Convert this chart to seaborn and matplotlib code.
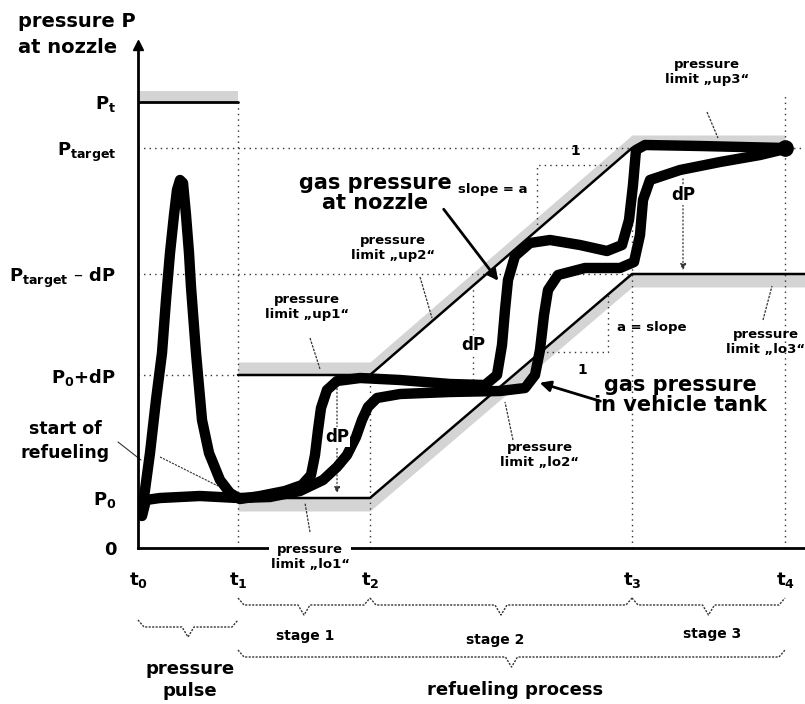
import numpy as np
import pandas as pd
import matplotlib
matplotlib.use("Agg")
import matplotlib.pyplot as plt
import seaborn as sns

# ---------------- data (schematic units) ----------------
t_names = ["t$_0$", "t$_1$", "t$_2$", "t$_3$", "t$_4$"]
t_vals = [0.0, 1.00, 2.32, 4.94, 6.47]
p_labels = ["0", "P$_0$", "P$_0$+dP", "P$_{target}$ – dP", "P$_{target}$", "P$_t$"]
p_vals = [0.0, 0.50, 1.73, 2.74, 4.00, 4.46]

nozzle_t = [0.04, 0.12, 0.18, 0.24, 0.28, 0.32, 0.36, 0.39, 0.42, 0.45, 0.48, 0.51, 0.53,
            0.58, 0.64, 0.71, 0.82, 0.92, 1.02, 1.22, 1.47, 1.64, 1.73, 1.77, 1.80, 1.83,
            1.89, 1.99, 2.22, 2.62, 3.12, 3.47, 3.59, 3.64, 3.67, 3.70, 3.77, 3.92, 4.12,
            4.42, 4.69, 4.84, 4.91, 4.95, 4.98, 5.07, 5.62, 6.47]
nozzle_p = [0.36, 0.95, 1.48, 1.95, 2.48, 2.95, 3.33, 3.58, 3.68, 3.65, 3.33, 2.95, 2.61,
            1.95, 1.28, 0.95, 0.68, 0.55, 0.49, 0.52, 0.57, 0.63, 0.73, 0.93, 1.18, 1.40,
            1.58, 1.67, 1.70, 1.68, 1.64, 1.63, 1.73, 2.03, 2.38, 2.68, 2.92, 3.05, 3.08,
            3.03, 2.97, 3.03, 3.28, 3.63, 3.98, 4.03, 4.02, 4.00]

tank_t = [0.04, 0.08, 0.22, 0.62, 1.00, 1.32, 1.62, 1.85, 1.99, 2.09, 2.18, 2.24, 2.30,
          2.39, 2.62, 3.12, 3.62, 3.87, 3.97, 4.02, 4.06, 4.10, 4.20, 4.47, 4.82, 4.96,
          5.02, 5.05, 5.12, 5.42, 5.82, 6.22, 6.47]
tank_p = [0.32, 0.48, 0.50, 0.52, 0.50, 0.51, 0.57, 0.68, 0.81, 0.93, 1.11, 1.28, 1.41,
          1.50, 1.54, 1.56, 1.57, 1.60, 1.73, 1.98, 2.33, 2.58, 2.73, 2.80, 2.80, 2.86,
          3.13, 3.48, 3.68, 3.78, 3.86, 3.93, 3.99]

up_t = [1.00, 2.32, 4.94, 6.47]
up_p = [1.73, 1.73, 4.00, 4.00]
lo_t = [1.00, 2.32, 4.94, 6.67]
lo_p = [0.50, 0.50, 2.74, 2.74]

# ---------------- style ----------------
sns.set_style("white")
plt.rcParams['font.family'] = ['DejaVu Sans']
plt.rcParams['mathtext.default'] = 'bf'
plt.rcParams['text.color'] = 'black'
plt.rcParams['xtick.color'] = 'black'
plt.rcParams['ytick.color'] = 'black'

fig = plt.figure(figsize=(8.05, 7.04), dpi=100)
ax = fig.add_axes([138/805, 156/704, 667/805, 503/704])
ax.set_xlim(0, 6.67)
ax.set_ylim(0, 5.03)

GREY = '#d4d4d4'
DOT = '#333333'

# shaded forbidden bands
ax.fill_between(up_t, up_p, np.array(up_p) + 0.13, color=GREY, lw=0, zorder=1)
ax.fill_between(lo_t, np.array(lo_p) - 0.13, lo_p, color=GREY, lw=0, zorder=1)
ax.fill_between([0.0, 1.0], [p_vals[5]] * 2, [p_vals[5] + 0.11] * 2, color=GREY, lw=0, zorder=1)

# dotted reference lines
kw = dict(color=DOT, lw=1.0, ls=(0, (1, 3)), zorder=1)
ax.plot([0, 6.67], [p_vals[4]] * 2, **kw)
ax.plot([0, t_vals[3]], [p_vals[3]] * 2, **kw)
ax.plot([0, t_vals[1]], [p_vals[2]] * 2, **kw)
ax.plot([t_vals[1]] * 2, [0, p_vals[5]], **kw)
ax.plot([t_vals[2]] * 2, [0, p_vals[2]], **kw)
ax.plot([t_vals[3]] * 2, [0, p_vals[4]], **kw)
ax.plot([t_vals[4]] * 2, [0, 4.55], **kw)

# limit lines
sns.lineplot(x=up_t, y=up_p, sort=False, estimator=None, color='black', lw=1.8, ax=ax, zorder=3)
sns.lineplot(x=lo_t, y=lo_p, sort=False, estimator=None, color='black', lw=1.8, ax=ax, zorder=3)
sns.lineplot(x=[0.0, 1.0], y=[p_vals[5]] * 2, sort=False, estimator=None, color='black', lw=2.0, ax=ax, zorder=3)

# pressure curves
sns.lineplot(x=tank_t, y=tank_p, sort=False, estimator=None, color='black', lw=7.5, ax=ax,
             zorder=4, solid_joinstyle='round', solid_capstyle='round')
sns.lineplot(x=nozzle_t, y=nozzle_p, sort=False, estimator=None, color='black', lw=7.5, ax=ax,
             zorder=4, solid_joinstyle='round', solid_capstyle='round')
ax.plot([nozzle_t[-1]], [nozzle_p[-1]], 'o', color='black', ms=11, zorder=5)

# axes styling
for s in ['top', 'right']:
    ax.spines[s].set_visible(False)
for s in ['left', 'bottom']:
    ax.spines[s].set_linewidth(2.0)
    ax.spines[s].set_color('black')
ax.plot([0], [5.03], marker='^', ms=7, color='black', clip_on=False, zorder=6)

ax.set_xticks(t_vals, t_names)
ax.set_yticks(p_vals, p_labels)
ax.tick_params(axis='x', direction='inout', length=7, width=1.2, pad=12, labelsize=13)
ax.tick_params(axis='y', direction='inout', length=7, width=1.2, pad=12, labelsize=13)
for lbl in ax.get_xticklabels() + ax.get_yticklabels():
    lbl.set_fontweight('bold')
    lbl.set_color('black')
ax.set_xlabel('')
ax.set_ylabel('')

# ---------------- annotations ----------------
ax.text(-1.20, 5.36, "pressure P\nat nozzle", ha='left', va='top', fontsize=14,
        fontweight='bold', linespacing=1.45, clip_on=False)
ax.text(-0.73, 1.07, "start of\nrefueling", ha='center', va='center', fontsize=12.5,
        fontweight='bold', linespacing=1.4, clip_on=False)
ax.plot([-0.20, 0.03], [1.06, 0.88], color=DOT, lw=0.8, clip_on=False)
ax.plot([0.22, 0.80], [0.91, 0.62], color=DOT, lw=0.8, ls=(0, (2, 1)), zorder=2)

small = dict(ha='center', va='center', fontsize=9.5, fontweight='bold', linespacing=1.2,
             clip_on=False, zorder=7)
ax.text(1.72, -0.09, "pressure\nlimit „lo1“",
        bbox=dict(facecolor='white', edgecolor='none', pad=1), **small)
ax.text(1.69, 2.41, "pressure\nlimit „up1“", **small)
ax.text(2.55, 3.00, "pressure\nlimit „up2“", **small)
ax.text(5.69, 4.76, "pressure\nlimit „up3“", **small)
ax.text(4.02, 0.93, "pressure\nlimit „lo2“", **small)
ax.text(6.28, 2.06, "pressure\nlimit „lo3“", **small)

lead = dict(color=DOT, lw=0.9, ls=(0, (2, 1)), zorder=6)
ax.plot([1.72, 1.67], [0.16, 0.45], **lead)
ax.plot([1.72, 1.82], [2.10, 1.79], **lead)
ax.plot([2.82, 2.94], [2.71, 2.30], **lead)
ax.plot([5.69, 5.80], [4.36, 4.10], **lead)
ax.plot([3.75, 3.67], [1.08, 1.46], **lead)
ax.plot([6.25, 6.34], [2.28, 2.62], **lead)

# slope triangles
ax.plot([3.99, 3.99, 4.74], [3.18, 3.83, 3.83], **kw)
ax.text(4.37, 3.97, "1", ha='center', va='center', fontsize=10, fontweight='bold')
ax.text(3.55, 3.59, "slope = a", ha='center', va='center', fontsize=9.5, fontweight='bold')
ax.plot([4.03, 4.70, 4.70], [1.96, 1.96, 2.53], **kw)
ax.text(4.44, 1.78, "1", ha='center', va='center', fontsize=10, fontweight='bold')
ax.text(5.14, 2.20, "a = slope", ha='center', va='center', fontsize=9.5, fontweight='bold')

# dP markers
ax.annotate("", xy=(1.99, 0.52), xytext=(1.99, 1.66),
            arrowprops=dict(arrowstyle='-|>', color=DOT, lw=0.9, ls=(0, (1, 2)), mutation_scale=9), zorder=3)
ax.text(1.99, 1.11, "dP", ha='center', va='center', fontsize=12, fontweight='bold',
        bbox=dict(facecolor='white', edgecolor='none', pad=0.5), zorder=5)
ax.plot([3.35, 3.35], [1.68, 2.60], **kw)
ax.text(3.35, 2.03, "dP", ha='center', va='center', fontsize=12, fontweight='bold',
        bbox=dict(facecolor='white', edgecolor='none', pad=0.5), zorder=5)
ax.annotate("", xy=(5.45, 2.75), xytext=(5.45, 3.72),
            arrowprops=dict(arrowstyle='-|>', color=DOT, lw=0.9, ls=(0, (1, 2)), mutation_scale=9), zorder=3)
ax.text(5.45, 3.53, "dP", ha='center', va='center', fontsize=12, fontweight='bold',
        bbox=dict(facecolor='white', edgecolor='none', pad=0.5), zorder=5)

# curve labels
ax.text(2.37, 3.55, "gas pressure\nat nozzle", ha='center', va='center', fontsize=15,
        fontweight='bold', linespacing=1.05, zorder=7)
ax.annotate("", xy=(3.62, 2.65), xytext=(3.04, 3.41),
            arrowprops=dict(arrowstyle='-|>', color='black', lw=2.0, mutation_scale=16), zorder=7)
ax.text(5.42, 1.53, "gas pressure\nin vehicle tank", ha='center', va='center', fontsize=15,
        fontweight='bold', linespacing=1.05, zorder=7)
ax.annotate("", xy=(3.99, 1.66), xytext=(4.65, 1.46),
            arrowprops=dict(arrowstyle='-|>', color='black', lw=2.0, mutation_scale=16), zorder=7)

# braces below the time axis
def brace(x0, x1, y, h=0.07, tip=0.10):
    xm = (x0 + x1) / 2
    s = min(0.06, (x1 - x0) / 10)
    ax.plot([x0, x0 + s, xm - s, xm, xm + s, x1 - s, x1],
            [y + h, y, y, y - tip, y, y, y + h],
            color=DOT, lw=1.0, ls=(0, (1.5, 1)), clip_on=False)

brace(t_vals[1], t_vals[2], -0.57)
brace(t_vals[2], t_vals[3], -0.57)
brace(t_vals[3], t_vals[4], -0.57)
brace(t_vals[0], t_vals[1], -0.79)
brace(t_vals[1], t_vals[4], -1.09)

lab = dict(ha='center', va='center', fontweight='bold', clip_on=False)
ax.text(1.67, -0.88, "stage 1", fontsize=10, **lab)
ax.text(3.57, -0.92, "stage 2", fontsize=10, **lab)
ax.text(5.74, -0.86, "stage 3", fontsize=10, **lab)
ax.text(0.52, -1.32, "pressure\npulse", fontsize=13, linespacing=1.25, **lab)
ax.text(3.77, -1.42, "refueling process", fontsize=13, **lab)

fig.savefig("out.png", dpi=100)
